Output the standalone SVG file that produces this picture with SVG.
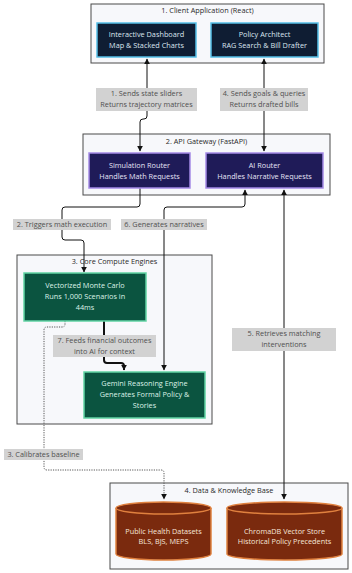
<svg xmlns="http://www.w3.org/2000/svg" width="352" height="573" viewBox="0 0 352 573">
<style>
text{font-family:"Open Sans","Noto Sans","DejaVu Sans",sans-serif;font-size:7.3px;text-anchor:middle}
.cl{fill:#f7f8fb;stroke:#4a4a4a;stroke-width:1}
.ct{fill:#2a2a2a}
.n1{fill:#0f1d33;stroke:#55bfe8;stroke-width:1.5}
.n2{fill:#1f1b58;stroke:#a58ae6;stroke-width:1.5}
.n3{fill:#0b5440;stroke:#62d3a4;stroke-width:1.5}
.n4{fill:#7a2a0e;stroke:#e0813f;stroke-width:1.5}
.t1{fill:#dce6f0}
.t2{fill:#e6e4f6}
.t3{fill:#dcf3e8}
.t4{fill:#f6e6da}
.e{fill:none;stroke:#111;stroke-width:1}
.thick{stroke-width:2}
.dot{stroke:#555;stroke-dasharray:1.2 1.2}
.lb{fill:#d2d2d2}
.lt{fill:#505050}
</style>
<defs>
<marker id="ah" viewBox="0 0 10 10" refX="9" refY="5" markerWidth="6" markerHeight="6" markerUnits="userSpaceOnUse" orient="auto-start-reverse"><path d="M0,0 L10,5 L0,10 z" fill="#111"/></marker>
</defs>

<g id="clusters">
<g id="cluster-client"><rect class="cl" x="91" y="4" width="233" height="59"/><text class="ct" x="207.5" y="12.5">1. Client Application (React)</text></g>
<g id="cluster-api"><rect class="cl" x="83" y="134" width="247" height="61"/><text class="ct" x="206.5" y="143.5">2. API Gateway (FastAPI)</text></g>
<g id="cluster-compute"><rect class="cl" x="17" y="255" width="195" height="169"/><text class="ct" x="114.5" y="263.5">3. Core Compute Engines</text></g>
<g id="cluster-data"><rect class="cl" x="110" y="483" width="238" height="86"/><text class="ct" x="229" y="492.5">4. Data &amp; Knowledge Base</text></g>
</g>

<g id="connectors">
<path class="e" d="M147,59 V116 Q147,119 144,119 H143 Q140,119 140,122 V151" marker-start="url(#ah)" marker-end="url(#ah)"/>
<path class="e" d="M264,59 V151" marker-start="url(#ah)" marker-end="url(#ah)"/>
<path class="e" d="M140,188 V204 Q140,207 137,207 H65 Q62,207 62,210 V237 Q62,240 65,240 H81 Q84,240 84,243 V272" marker-end="url(#ah)"/>
<path class="e" d="M245,190 V204 Q245,207 242,207 H167 Q164,207 164,210 V370" marker-start="url(#ah)" marker-end="url(#ah)"/>
<path class="e" d="M284,190 V499" marker-start="url(#ah)" marker-end="url(#ah)"/>
<path class="e thick" d="M104,321 V360 Q104,363 107,363 H121 Q124,363 124,366 V370" marker-end="url(#ah)"/>
<path class="e dot" d="M65,321 V324 Q65,327 62,327 H47 Q44,327 44,330 V467 Q44,470 47,470 H161 Q164,470 164,473 V499" marker-end="url(#ah)"/>
</g>

<g id="edge-labels">
<g><rect class="lb" x="96" y="88" width="101" height="23"/><text class="lt" x="146.5" y="96">1. Sends state sliders</text><text class="lt" x="146.5" y="107">Returns trajectory matrices</text></g>
<g><rect class="lb" x="220" y="88" width="88" height="23"/><text class="lt" x="264" y="96">4. Sends goals &amp; queries</text><text class="lt" x="264" y="107">Returns drafted bills</text></g>
<g><rect class="lb" x="13" y="219" width="98" height="11"/><text class="lt" x="62" y="227">2. Triggers math execution</text></g>
<g><rect class="lb" x="121" y="219" width="86" height="11"/><text class="lt" x="164" y="227">6. Generates narratives</text></g>
<g><rect class="lb" x="53" y="335" width="103" height="22"/><text class="lt" x="104.5" y="342.5">7. Feeds financial outcomes</text><text class="lt" x="104.5" y="353.5">into AI for context</text></g>
<g><rect class="lb" x="232" y="328" width="104" height="23"/><text class="lt" x="284" y="336">5. Retrieves matching</text><text class="lt" x="284" y="347">interventions</text></g>
<g><rect class="lb" x="4" y="449" width="79" height="11"/><text class="lt" x="43.5" y="457">3. Calibrates baseline</text></g>
</g>

<g id="node-dashboard"><rect class="n1" x="97" y="23" width="99" height="34"/><text class="t1" x="146.5" y="37">Interactive Dashboard</text><text class="t1" x="146.5" y="48">Map &amp; Stacked Charts</text></g>
<g id="node-architect"><rect class="n1" x="211" y="23" width="107" height="34"/><text class="t1" x="264.5" y="37">Policy Architect</text><text class="t1" x="264.5" y="48">RAG Search &amp; Bill Drafter</text></g>
<g id="node-simrouter"><rect class="n2" x="89" y="153" width="101" height="35"/><text class="t2" x="139.5" y="167.5">Simulation Router</text><text class="t2" x="139.5" y="179">Handles Math Requests</text></g>
<g id="node-airouter"><rect class="n2" x="206" y="153" width="117" height="35"/><text class="t2" x="264.5" y="167.5">AI Router</text><text class="t2" x="264.5" y="179">Handles Narrative Requests</text></g>
<g id="node-montecarlo"><rect class="n3" x="24" y="273" width="122" height="48"/><text class="t3" x="85" y="287.5">Vectorized Monte Carlo</text><text class="t3" x="85" y="298.5">Runs 1,000 Scenarios in</text><text class="t3" x="85" y="309.5">44ms</text></g>
<g id="node-gemini"><rect class="n3" x="84" y="372" width="121" height="46"/><text class="t3" x="144.5" y="385.5">Gemini Reasoning Engine</text><text class="t3" x="144.5" y="396.5">Generates Formal Policy &amp;</text><text class="t3" x="144.5" y="407.5">Stories</text></g>
<g id="node-publichealth"><path class="n4" d="M116,508 A47.5,6 0 0 1 211,508 V554 A47.5,6 0 0 1 116,554 Z"/><path class="n4" d="M116,508 A47.5,6 0 0 0 211,508" fill="none"/><text class="t4" x="163.5" y="533.5">Public Health Datasets</text><text class="t4" x="163.5" y="544">BLS, BJS, MEPS</text></g>
<g id="node-chromadb"><path class="n4" d="M227,508 A57.5,6 0 0 1 342,508 V554 A57.5,6 0 0 1 227,554 Z"/><path class="n4" d="M227,508 A57.5,6 0 0 0 342,508" fill="none"/><text class="t4" x="284.5" y="533.5">ChromaDB Vector Store</text><text class="t4" x="284.5" y="544">Historical Policy Precedents</text></g>
</svg>
